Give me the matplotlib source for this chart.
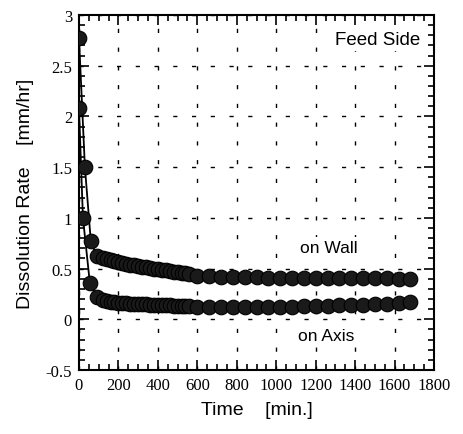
import numpy as np
import matplotlib.pyplot as plt
from matplotlib.ticker import MultipleLocator

# data
wall_t = [0, 30, 60, 90, 120, 140, 160, 180, 200, 220, 240, 260, 280, 300, 320,
          340, 360, 380, 400, 420, 440, 460, 480, 500, 520, 540, 560,
          600, 660, 720, 780, 840, 900, 960, 1020, 1080, 1140, 1200, 1260,
          1320, 1380, 1440, 1500, 1560, 1620, 1680]
wall_v = [2.77, 1.50, 0.77, 0.62, 0.60, 0.59, 0.58, 0.57, 0.56, 0.555, 0.55,
          0.54, 0.535, 0.53, 0.52, 0.515, 0.51, 0.50, 0.495, 0.49, 0.485,
          0.48, 0.47, 0.465, 0.46, 0.455, 0.45,
          0.43, 0.425, 0.42, 0.42, 0.415, 0.415, 0.41, 0.41, 0.41, 0.41,
          0.41, 0.41, 0.41, 0.41, 0.41, 0.405, 0.405, 0.40, 0.40]

axis_t = [0, 20, 55, 90, 120, 140, 160, 180, 200, 220, 240, 260, 280, 300, 320,
          340, 360, 380, 400, 420, 440, 460, 480, 500, 520, 540, 560,
          600, 660, 720, 780, 840, 900, 960, 1020, 1080, 1140, 1200, 1260,
          1320, 1380, 1440, 1500, 1560, 1620, 1680]
axis_v = [2.08, 1.00, 0.36, 0.22, 0.19, 0.18, 0.175, 0.17, 0.165, 0.16, 0.16,
          0.155, 0.155, 0.15, 0.15, 0.15, 0.145, 0.145, 0.145, 0.14, 0.14,
          0.14, 0.135, 0.135, 0.135, 0.13, 0.13,
          0.125, 0.12, 0.12, 0.12, 0.12, 0.12, 0.12, 0.125, 0.125, 0.13,
          0.13, 0.135, 0.14, 0.14, 0.145, 0.15, 0.155, 0.16, 0.17]

x_ticks = np.arange(0, 1801, 200)
y_ticks = [-0.5, 0, 0.5, 1, 1.5, 2, 2.5, 3]
y_labels = ['-0.5', '0', '0.5', '1', '1.5', '2', '2.5', '3']

fig = plt.figure(figsize=(4.63, 4.35), dpi=100)
ax = fig.add_axes([0.1706, 0.1471, 0.7668, 0.8161])

for t, v in [(wall_t, wall_v), (axis_t, axis_v)]:
    ax.plot(t, v, '-', color='black', lw=1.3, zorder=3)
    ax.plot(t, v, 'o', color='#1a1a1a', mec='black', ms=10.5, mew=0.8, zorder=4)

ax.set_xlim(0, 1800)
ax.set_ylim(-0.5, 3)
ax.set_xticks(x_ticks)
ax.set_yticks(y_ticks)
ax.set_yticklabels(y_labels)
ax.xaxis.set_minor_locator(MultipleLocator(50))
ax.yaxis.set_minor_locator(MultipleLocator(0.1))
ax.tick_params(which='both', direction='in', top=True, right=True, width=1.2)
ax.tick_params(which='major', length=7, pad=5)
ax.tick_params(which='minor', length=4)
for lab in ax.get_xticklabels() + ax.get_yticklabels():
    lab.set_fontfamily('Liberation Serif')
    lab.set_fontsize(12)

ax.grid(True, which='major', color='black', lw=1.0, linestyle=(0, (3, 10.5)))
for s in ax.spines.values():
    s.set_linewidth(1.5)

ax.set_xlabel('Time    [min.]', family='Liberation Sans', fontsize=14, labelpad=6)
ax.set_ylabel('Dissolution Rate    [mm/hr]', family='Liberation Sans', fontsize=14, labelpad=8)

box = dict(facecolor='white', edgecolor='none', pad=2)
ax.text(1730, 2.76, 'Feed Side', family='Liberation Sans', fontsize=13.5,
        ha='right', va='center', bbox=box, zorder=5)
ax.text(1265, 0.71, 'on Wall', family='Liberation Sans', fontsize=12.5,
        ha='center', va='center', bbox=box, zorder=5)
ax.text(1255, -0.16, 'on Axis', family='Liberation Sans', fontsize=12.5,
        ha='center', va='center', bbox=box, zorder=5)

fig.savefig('out.png', dpi=100)
